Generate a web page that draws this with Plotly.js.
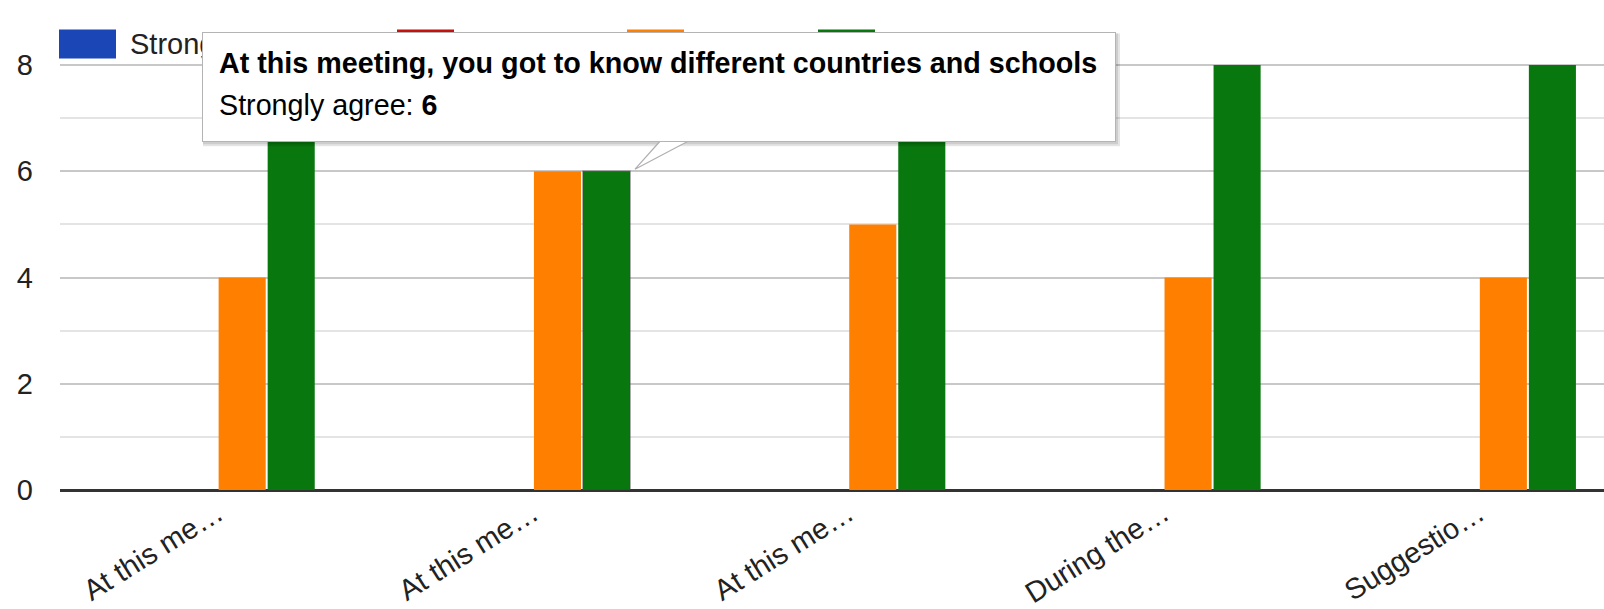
<!DOCTYPE html>
<html>
<head>
<meta charset="utf-8">
<script src="https://cdn.plot.ly/plotly-3.0.1.min.js"></script>
<style>
  html, body { margin: 0; padding: 0; background: #fff; overflow: hidden; }
  #chart { width: 1604px; height: 609px; }
</style>
</head>
<body>
<div id="chart"></div>
<script>
// ---- data ----
const tickLabels = ['At this me\u2026', 'At this me\u2026', 'At this me\u2026', 'During the\u2026', 'Suggestio\u2026'];
const seriesNames = ['Strongly disagree', 'Disagree', 'Agree', 'Strongly agree'];
const stronglyDisagree = [0, 0, 0, 0, 0];
const disagree = [0, 0, 0, 0, 0];
const agree = [4, 6, 5, 4, 4];
const stronglyAgree = [8, 6, 7, 8, 8];
const hoveredQuestion = 'At this meeting, you got to know different countries and schools';
const hoveredIndex = 1;

// ---- style ----
const colors = ['#1b46b6', '#c8100c', '#ff7f00', '#08770e'];
const FONT = '"Liberation Sans", Arial, sans-serif';
const TXT = '#222222';
const PL = 60, PT = 11.5, PW = 1544, PH = 479;
const px = p => (p - PL) / PW;
const py = p => (PT + PH - p) / PH;

const seriesValues = [stronglyDisagree, disagree, agree, stronglyAgree];
const xIdx = tickLabels.map((_, i) => i);

const traces = seriesValues.map((vals, s) => {
  const t = {
    type: 'bar',
    name: seriesNames[s],
    x: xIdx,
    y: vals,
    marker: { color: colors[s] },
    showlegend: false
  };
  if (s === 3) {
    t.marker.line = {
      color: vals.map((_, i) => i === hoveredIndex ? 'rgba(70,70,70,0.55)' : 'rgba(0,0,0,0)'),
      width: vals.map((_, i) => i === hoveredIndex ? 1.5 : 0)
    };
  }
  return t;
});

// ---- custom legend (Google-style) ----
const legendLeft = [59, 397, 627, 818];
const shapes = [];
const annotations = [];
seriesNames.forEach((n, s) => {
  shapes.push({
    type: 'rect', xref: 'paper', yref: 'paper', layer: 'above',
    x0: px(legendLeft[s]), x1: px(legendLeft[s] + 57),
    y0: py(58), y1: py(29),
    fillcolor: colors[s], line: { width: 0 }
  });
  annotations.push({
    xref: 'paper', yref: 'paper', x: px(legendLeft[s] + 69), y: py(44),
    xanchor: 'left', yanchor: 'middle', showarrow: false,
    text: n, font: { family: FONT, size: 29, color: TXT }
  });
});

// ---- tooltip ----
const boxL = 202, boxR = 1116, boxT = 32, boxB = 142;
// shadow
shapes.push({
  type: 'rect', xref: 'paper', yref: 'paper', layer: 'above',
  x0: px(boxL + 1), x1: px(boxR + 4), y0: py(boxB + 4), y1: py(boxT + 1),
  fillcolor: 'rgba(0,0,0,0.10)', line: { width: 0 }
});
shapes.push({
  type: 'rect', xref: 'paper', yref: 'paper', layer: 'above',
  x0: px(boxL + 1), x1: px(boxR + 2), y0: py(boxB + 2), y1: py(boxT + 1),
  fillcolor: 'rgba(0,0,0,0.10)', line: { width: 0 }
});
// pointer
shapes.push({
  type: 'path', xref: 'paper', yref: 'paper', layer: 'above',
  path: 'M' + px(660) + ',' + py(141) + ' L' + px(635) + ',' + py(169) + ' L' + px(688) + ',' + py(141) + ' Z',
  fillcolor: '#ffffff', line: { color: '#b0b0b0', width: 1.2 }
});
// box
annotations.push({
  xref: 'paper', yref: 'paper', x: px(boxL), y: py(boxT),
  xanchor: 'left', yanchor: 'top', showarrow: false,
  text: '\u00a0', width: boxR - boxL - 2, height: boxB - boxT - 2,
  bgcolor: '#ffffff', bordercolor: '#b4b4b4', borderwidth: 1, borderpad: 0,
  font: { family: FONT, size: 10, color: TXT }
});
annotations.push({
  xref: 'paper', yref: 'paper', x: px(217), y: py(62.5),
  xanchor: 'left', yanchor: 'middle', showarrow: false,
  text: '<b>' + hoveredQuestion + '</b>',
  font: { family: FONT, size: 28.7, color: '#000000' }
});
annotations.push({
  xref: 'paper', yref: 'paper', x: px(217), y: py(105),
  xanchor: 'left', yanchor: 'middle', showarrow: false,
  text: seriesNames[3] + ': <b>' + stronglyAgree[hoveredIndex] + '</b>',
  font: { family: FONT, size: 28.7, color: '#000000' }
});

const layout = {
  width: 1604, height: 609,
  margin: { l: PL, r: 0, t: PT, b: 609 - PT - PH, pad: 0 },
  paper_bgcolor: '#ffffff', plot_bgcolor: '#ffffff',
  barmode: 'group', bargap: 0.378, bargroupgap: 0.04,
  hovermode: false,
  font: { family: FONT, size: 29, color: TXT },
  xaxis: {
    range: [-0.5, PW / 315.3 - 0.5],
    tickvals: xIdx, ticktext: tickLabels,
    tickangle: -32, showgrid: false, zeroline: false, showline: false,
    ticks: '', tickfont: { family: FONT, size: 29, color: TXT },
    fixedrange: true
  },
  yaxis: {
    range: [0, 9], dtick: 2, tick0: 0,
    showgrid: true, gridcolor: '#c8c8c8', gridwidth: 2,
    minor: { dtick: 1, tick0: 0, showgrid: true, gridcolor: '#e4e4e4', gridwidth: 2 },
    zeroline: true, zerolinecolor: '#333333', zerolinewidth: 3,
    showline: false, ticks: '', ticklabelstandoff: 26,
    tickfont: { family: FONT, size: 29, color: TXT },
    fixedrange: true
  },
  shapes: shapes,
  annotations: annotations
};

Plotly.newPlot('chart', traces, layout, { displayModeBar: false, staticPlot: true });
</script>
</body>
</html>
